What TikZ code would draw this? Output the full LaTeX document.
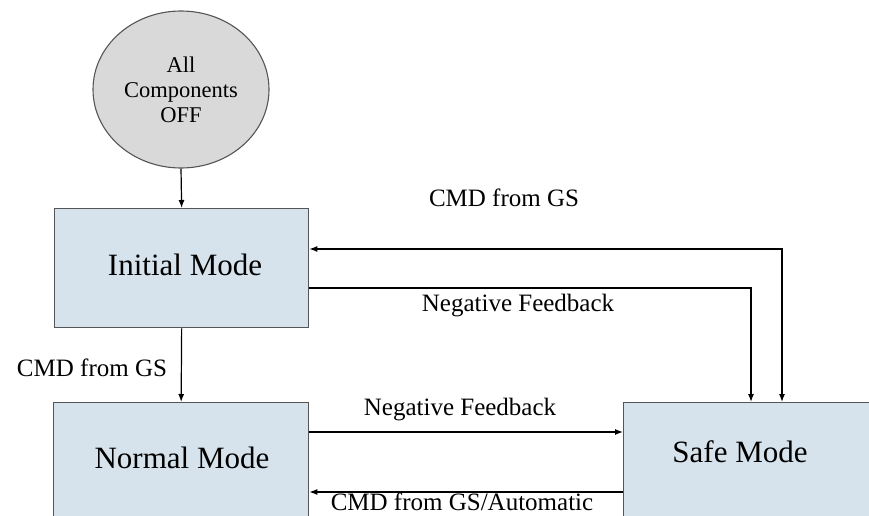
\documentclass[tikz,border=0pt]{standalone}
\usepackage{fontspec}
\setmainfont{Liberation Serif}
\usetikzlibrary{shapes.geometric,arrows.meta}
\definecolor{boxfill}{RGB}{215,227,236}
\definecolor{circfill}{RGB}{217,217,217}
\definecolor{edgegray}{RGB}{85,85,85}
\tikzset{
  modebox/.style={draw=edgegray, line width=1.3pt, fill=boxfill, rectangle, inner sep=0pt, anchor=north west},
  modetext/.style={font=\fontsize{31}{36}\selectfont, inner sep=0pt},
  startnode/.style={draw=edgegray, line width=1.1pt, fill=circfill, ellipse, inner sep=0pt, minimum width=176pt, minimum height=157pt, align=center, font=\fontsize{22.5}{25}\selectfont},
  lbl/.style={font=\fontsize{25}{28}\selectfont, inner sep=0pt},
  arr/.style={line width=1.2pt, -{Latex[length=8pt,width=6pt]}},
  darr/.style={line width=1.2pt, {Latex[length=8pt,width=6pt]}-{Latex[length=8pt,width=6pt]}}
}
\begin{document}
\begin{tikzpicture}[x=1pt,y=1pt]
\useasboundingbox (0,0) rectangle (869,-516);
\clip (0,0) rectangle (869,-516);
% nodes
\node[startnode] (off) at (181,-89.5) {All\\Components\\OFF};
\node[modebox, minimum width=254pt, minimum height=119pt] (init) at (54,-208) {};
\node[modebox, minimum width=255pt, minimum height=170pt] (norm) at (53,-402) {};
\node[modebox, minimum width=275pt, minimum height=170pt] (safe) at (623,-402) {};
\node[modetext] (inittxt) at (185,-265) {Initial Mode};
\node[modetext] (normtxt) at (182,-458) {Normal Mode};
\node[modetext] (safetxt) at (740,-452) {Safe Mode};
% connectors
\draw[arr] (off.south) -- (init.north);
\draw[arr] (init.south) -- (norm.north);
\draw[darr] ([yshift=-41pt]init.north east) -| ([xshift=159pt]safe.north west);
\draw[arr] ([yshift=-80pt]init.north east) -| ([xshift=128pt]safe.north west);
\draw[arr] ([yshift=-30pt]norm.north east) -- ([yshift=-30pt]safe.north west);
\draw[arr] ([yshift=-90pt]safe.north west) -- ([yshift=-90pt]norm.north east);
% labels
\node[lbl] (l1) at (504,-198) {CMD from GS};
\node[lbl] (l2) at (518,-306) {Negative Feedback};
\node[lbl] (l3) at (92,-368) {CMD from GS};
\node[lbl] (l4) at (460,-410) {Negative Feedback};
\node[lbl] (l5) at (462,-502) {CMD from GS/Automatic};
\end{tikzpicture}
\end{document}
